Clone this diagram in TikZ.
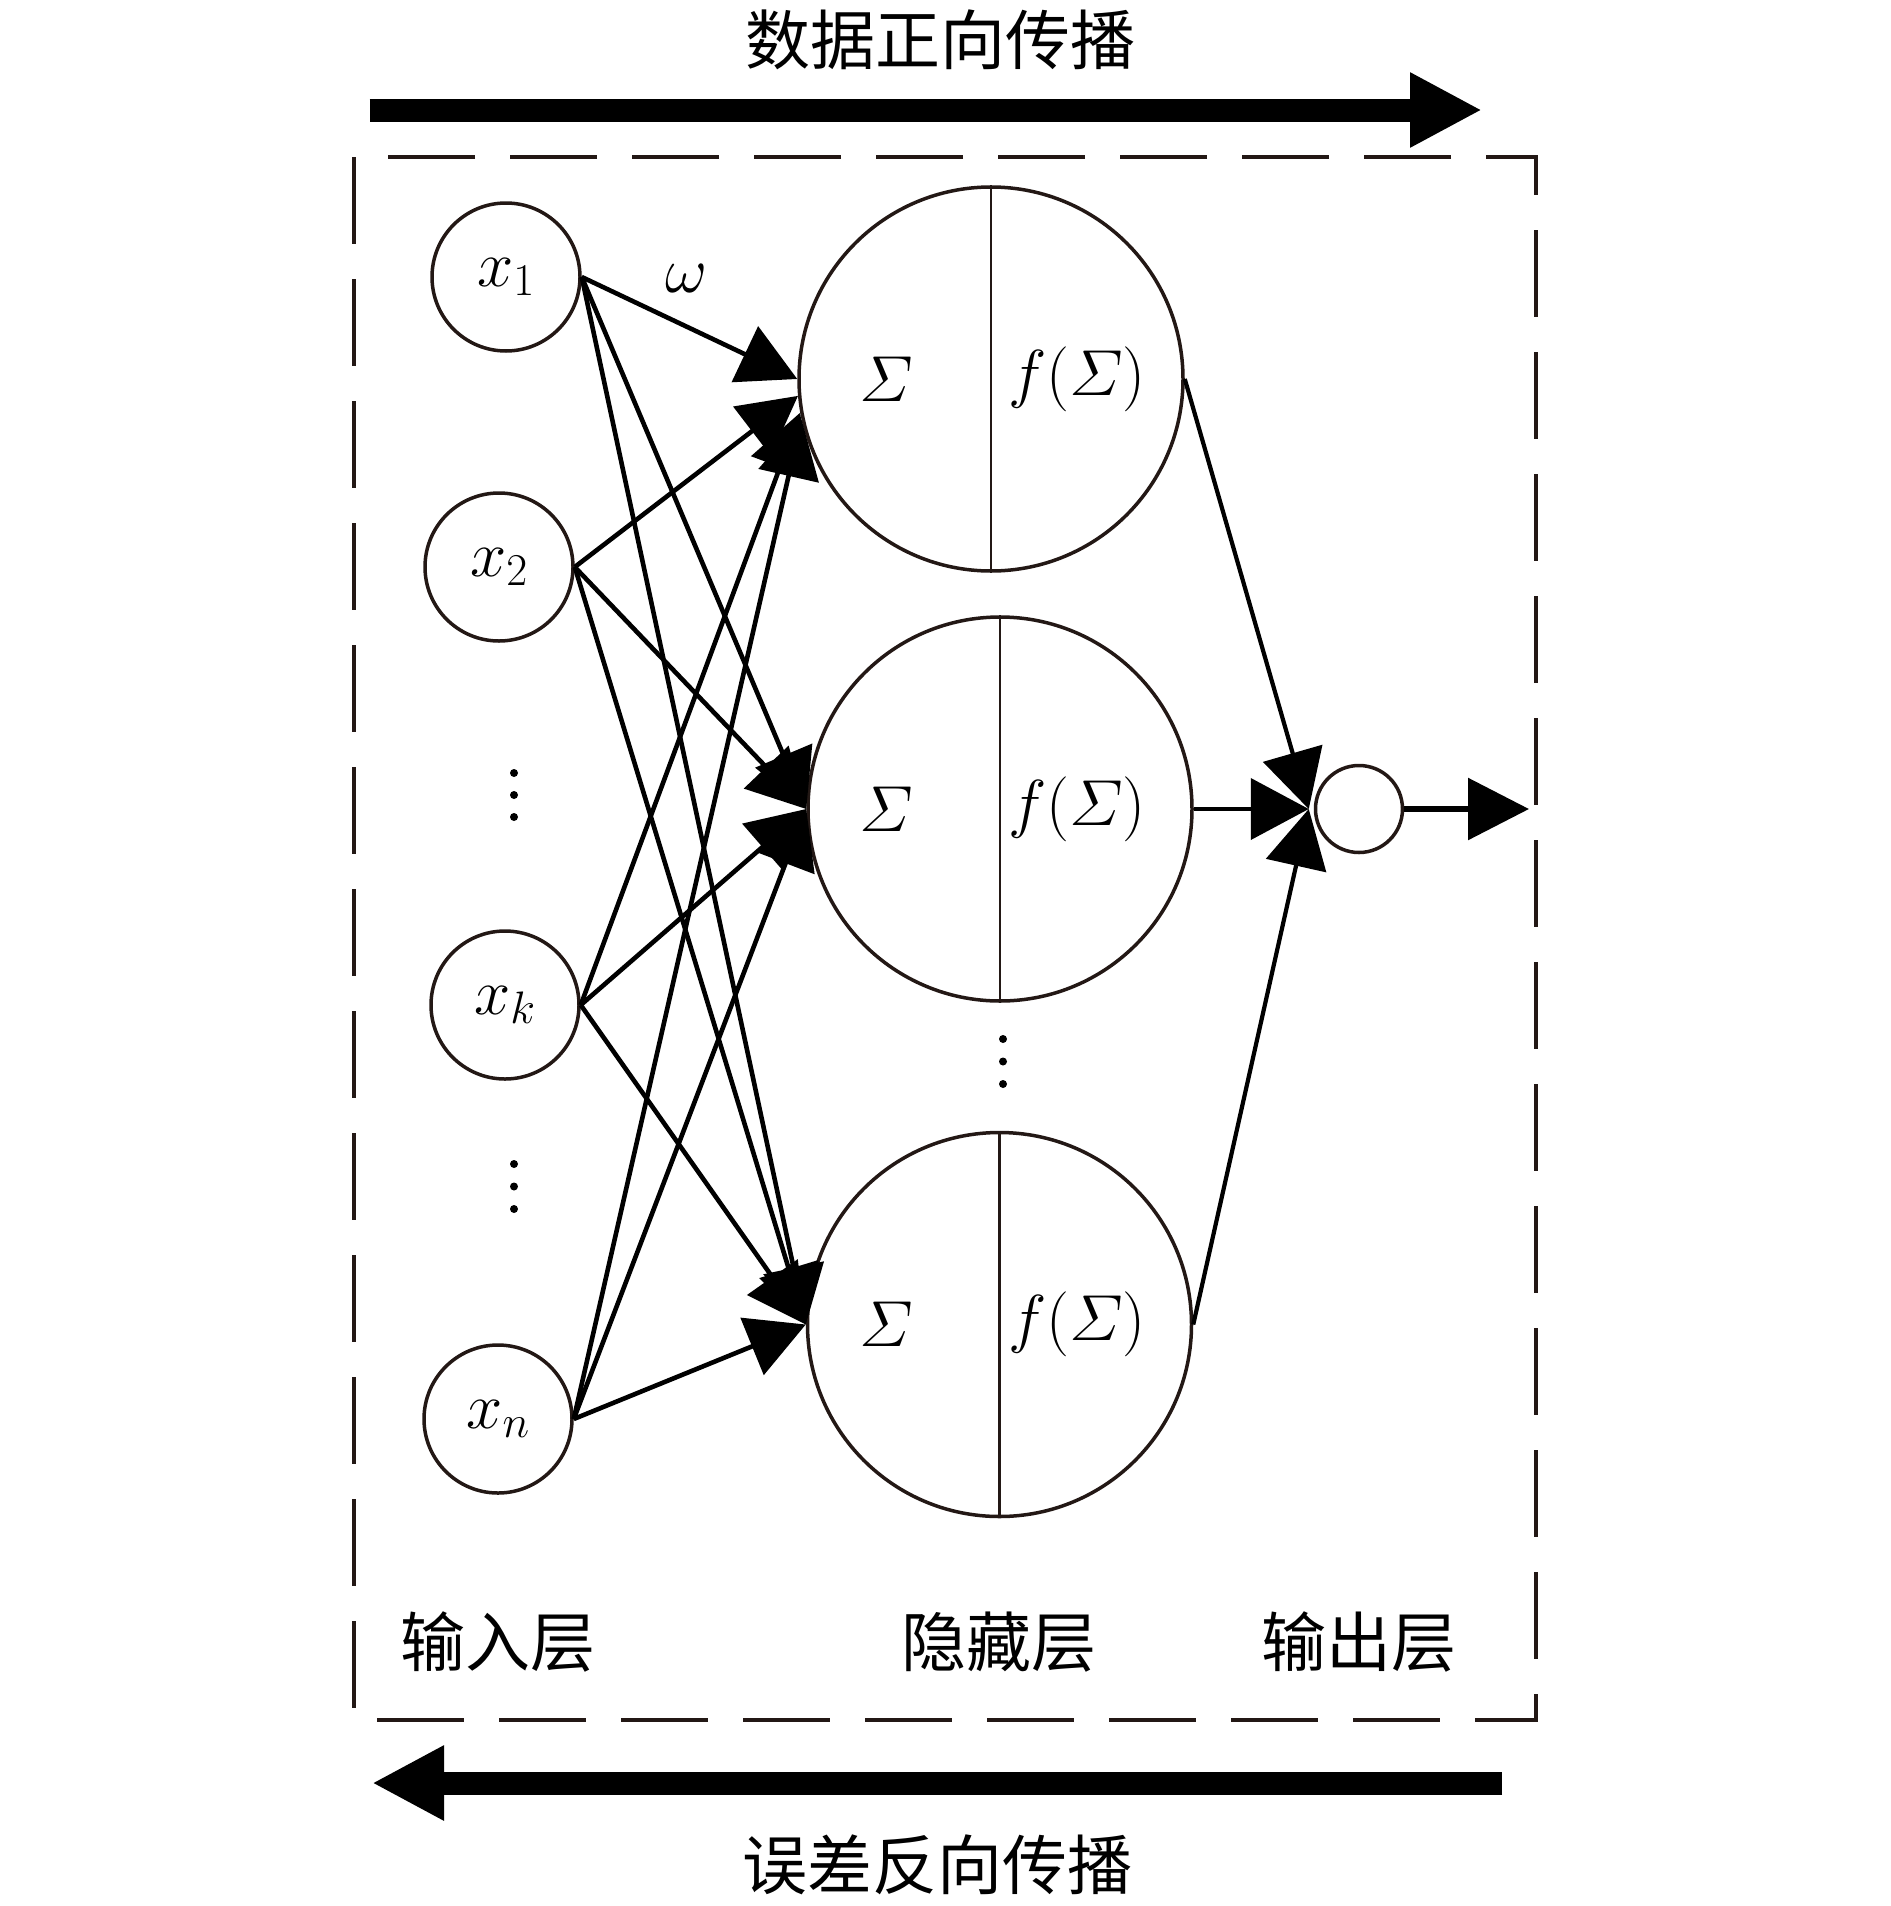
\RequirePackage{fix-cm}
\documentclass[tikz,border=0pt]{standalone}
\usepackage{amsmath}
\usepackage{fontspec}
\newfontfamily\cjk{Noto Sans CJK SC}
\usetikzlibrary{arrows.meta}
\definecolor{ink}{RGB}{35,24,21}
\begin{document}
\begin{tikzpicture}[x=1pt,y=-1pt,
  nd/.style={circle,draw=ink,line width=3.5pt,inner sep=0pt},
  inp/.style={nd,minimum size=148pt},
  hid/.style={nd,minimum size=384pt},
  outn/.style={nd,minimum size=87pt},
  mt/.style={font=\fontsize{65}{72}\selectfont,inner sep=0pt},
  zh/.style={font=\cjk\fontsize{65}{72}\selectfont,inner sep=0pt},
  edge/.style={line width=4.6pt,-{Triangle[length=58pt,width=61pt]}},
  oedge/.style={line width=4.2pt,-{Triangle[length=58pt,width=61pt]}},
  big/.style={line width=23pt,-{Triangle[length=72pt,width=70pt]}},
  dotm/.style={circle,fill=black,inner sep=0pt,minimum size=8pt},
  divider/.style={draw=ink,line width=2.8pt}]
\useasboundingbox (0,0) rectangle (1890,1906);

% frame
\draw[ink,line width=4pt,dash pattern=on 87pt off 35pt] (354,157) rectangle (1535.5,1720);

% input nodes
\node[inp] (x1) at (506,277) {};
\node[inp] (x2) at (499,567) {};
\node[inp] (xk) at (505,1005) {};
\node[inp] (xn) at (498,1419) {};
\node[mt] (lx1) at (x1) {$x_1$};
\node[mt] (lx2) at (x2) {$x_2$};
\node[mt] (lxk) at (xk) {$x_k$};
\node[mt] (lxn) at (xn) {$x_n$};

% hidden nodes
\node[hid] (H1) at (991,379) {};
\node[hid] (H2) at (1000,809) {};
\node[hid] (H3) at (999.5,1324.5) {};
\foreach \h in {H1,H2,H3}{
  \draw[divider] (\h.north) -- (\h.south);
  \node[mt] (s\h) at (886,0 |- \h.center) {$\varSigma$};
  \node[mt] (f\h) at (1077,0 |- \h.center) {$f(\varSigma)$};
}

% output node
\node[outn] (out) at (1359,809) {};
\coordinate (oin) at ([xshift=-5pt]out.west);
\coordinate (oend) at (1529,809);

% dots
\node[dotm] (d1) at (514,773) {};
\node[dotm] (d2) at (514,795) {};
\node[dotm] (d3) at (514,817) {};
\node[dotm] (d4) at (514,1164) {};
\node[dotm] (d5) at (514,1186.5) {};
\node[dotm] (d6) at (514,1209) {};
\node[dotm] (d7) at (1003,1039) {};
\node[dotm] (d8) at (1003,1061.5) {};
\node[dotm] (d9) at (1003,1084) {};

% input -> hidden
\draw[edge] (x1.east) -- (H1.west);
\draw[edge] (x2.east) -- (H1.185);
\draw[edge] (xk.east) -- (H1.190);
\draw[edge] (xn.east) -- (H1.192);
\foreach \i in {x1,x2,xk,xn}{
  \draw[edge] (\i.east) -- (H2.west);
  \draw[edge] (\i.east) -- (H3.west);
}

% hidden -> output
\draw[oedge] (H1.east) -- (oin);
\draw[oedge] (H2.east) -- (oin);
\draw[oedge] (H3.east) -- (oin);
\draw[line width=6pt,-{Triangle[length=61pt,width=61pt]}] (out.east) -- (oend);

% weight label
\node[mt] (w) at (686,279) {$\omega$};

% layer labels
\node[zh] (Lin) at (497.5,1642) {输入层};
\node[zh] (Lhid) at (999,1642) {隐藏层};
\node[zh] (Lout) at (1358.5,1642) {输出层};

% propagation arrows
\coordinate (fa) at (369.5,110);
\coordinate (fb) at (1482,110);
\draw[big] (fa) -- (fb);
\node[zh] (ft) at (940,40) {数据正向传播};
\coordinate (ba) at (1502,1783);
\coordinate (bb) at (372,1783);
\draw[big] (ba) -- (bb);
\node[zh] (bt) at (937.6,1865) {误差反向传播};
\end{tikzpicture}
\end{document}
